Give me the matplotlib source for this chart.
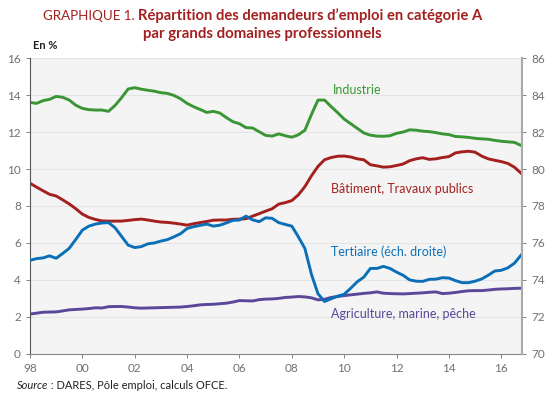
import numpy as np
import matplotlib
matplotlib.use('Agg')
import matplotlib.pyplot as plt

plt.rcParams['font.family'] = ['Lato', 'DejaVu Sans']

# quarterly data, 1998 Q1 -> 2016 Q4
industrie = [13.60, 13.55, 13.70, 13.77, 13.93, 13.88, 13.73, 13.45,
             13.28, 13.21, 13.19, 13.19, 13.12, 13.44, 13.86, 14.33,
             14.40, 14.32, 14.26, 14.21, 14.13, 14.09, 13.98, 13.80,
             13.55, 13.37, 13.22, 13.06, 13.12, 13.03, 12.78, 12.56,
             12.45, 12.24, 12.22, 12.02, 11.82, 11.78, 11.90, 11.80,
             11.72, 11.85, 12.10, 12.95, 13.73, 13.73, 13.38, 13.05,
             12.70, 12.45, 12.20, 11.95, 11.83, 11.78, 11.77, 11.80,
             11.93, 12.00, 12.12, 12.10, 12.05, 12.02, 11.97, 11.90,
             11.86, 11.76, 11.74, 11.71, 11.66, 11.63, 11.61, 11.55,
             11.50, 11.47, 11.44, 11.28]
batiment = [9.23, 9.02, 8.82, 8.63, 8.54, 8.33, 8.11, 7.85,
            7.56, 7.38, 7.27, 7.19, 7.18, 7.18, 7.18, 7.22,
            7.26, 7.29, 7.24, 7.18, 7.13, 7.11, 7.07, 7.02,
            6.96, 7.04, 7.10, 7.16, 7.23, 7.24, 7.24, 7.28,
            7.29, 7.31, 7.45, 7.58, 7.72, 7.85, 8.10, 8.18,
            8.29, 8.60, 9.05, 9.63, 10.14, 10.50, 10.62, 10.69,
            10.70, 10.65, 10.55, 10.50, 10.23, 10.17, 10.10, 10.12,
            10.19, 10.27, 10.45, 10.55, 10.61, 10.52, 10.55, 10.62,
            10.67, 10.87, 10.93, 10.96, 10.91, 10.70, 10.55, 10.47,
            10.40, 10.30, 10.10, 9.78]
tertiaire = [75.06, 75.15, 75.19, 75.30, 75.17, 75.43, 75.71, 76.19,
             76.69, 76.91, 77.02, 77.08, 77.10, 76.82, 76.35, 75.88,
             75.75, 75.80, 75.95, 76.00, 76.10, 76.18, 76.33, 76.50,
             76.78, 76.88, 76.95, 77.02, 76.91, 76.96, 77.08, 77.22,
             77.24, 77.45, 77.25, 77.15, 77.36, 77.33, 77.10, 77.00,
             76.91, 76.33, 75.70, 74.30, 73.25, 72.83, 72.98, 73.12,
             73.22, 73.55, 73.90, 74.15, 74.62, 74.62, 74.73, 74.62,
             74.42, 74.25, 74.00, 73.93, 73.92, 74.03, 74.04, 74.12,
             74.10, 73.96, 73.85, 73.85, 73.93, 74.05, 74.25, 74.48,
             74.52, 74.65, 74.90, 75.33]
agriculture = [2.15, 2.20, 2.25, 2.26, 2.27, 2.32, 2.38, 2.40,
               2.42, 2.45, 2.49, 2.48, 2.55, 2.56, 2.56, 2.53,
               2.49, 2.47, 2.48, 2.49, 2.50, 2.51, 2.52, 2.53,
               2.56, 2.60, 2.65, 2.67, 2.68, 2.71, 2.74, 2.80,
               2.88, 2.87, 2.86, 2.93, 2.96, 2.97, 3.00, 3.05,
               3.07, 3.10, 3.08, 3.03, 2.92, 2.95, 3.05, 3.10,
               3.15, 3.19, 3.23, 3.27, 3.30, 3.35, 3.28, 3.26,
               3.25, 3.24, 3.26, 3.28, 3.30, 3.33, 3.35, 3.26,
               3.28, 3.32, 3.37, 3.41, 3.42, 3.42, 3.45, 3.49,
               3.51, 3.52, 3.54, 3.55]
years = 1998 + np.arange(len(industrie)) / 4
xtick_years = list(range(1998, 2017, 2))
xtick_labels = ['98', '00', '02', '04', '06', '08', '10', '12', '14', '16']

c_green = '#3a9634'
c_red = '#a3201f'
c_blue = '#0a6fb7'
c_purple = '#5a4799'
c_title = '#a3201f'
c_tick = '#707070'

fig = plt.figure(figsize=(5.5, 3.98), dpi=100)
ax = fig.add_axes([0.0545, 0.111, 0.895, 0.743])
ax2 = ax.twinx()

ax.set_facecolor('#f4f4f4')
ax.set_xlim(1998, 2016.8)
ax.set_ylim(0, 16)
ax2.set_ylim(70, 86)
ax.set_yticks(range(0, 17, 2))
ax2.set_yticks(range(70, 87, 2))
ax.set_xticks(xtick_years)
ax.set_xticklabels(xtick_labels)
ax.grid(axis='y', color='#e4e4e4', linewidth=0.8)
ax.set_axisbelow(True)

for a in (ax, ax2):
    a.spines['top'].set_visible(False)
    a.tick_params(labelsize=8.5, colors=c_tick, length=3, width=0.6)
ax.spines['left'].set_color('#555555')
ax.spines['bottom'].set_color('#888888')
ax.spines['right'].set_visible(False)
ax2.spines['left'].set_visible(False)
ax2.spines['bottom'].set_visible(False)
ax2.spines['right'].set_color('#aaaaaa')
ax2.spines['right'].set_linewidth(1.5)

lw = 2.1
ax.plot(years, industrie, color=c_green, lw=lw)
ax.plot(years, batiment, color=c_red, lw=lw)
ax.plot(years, agriculture, color=c_purple, lw=lw)
ax2.plot(years, tertiaire, color=c_blue, lw=lw)

lab = dict(fontsize=9, va='center')
ax.text(2010.5, 14.3, 'Industrie', color=c_green, ha='center', **lab)
ax.text(2009.5, 8.9, 'Bâtiment, Travaux publics', color=c_red, **lab)
ax.text(2009.5, 5.55, 'Tertiaire (éch. droite)', color=c_blue, **lab)
ax.text(2009.5, 2.15, 'Agriculture, marine, pêche', color=c_purple, **lab)

fig.text(0.06, 0.878, 'En %', fontsize=8, fontweight='bold', color='#222222')

fig.canvas.draw()
r = fig.canvas.get_renderer()
s1 = fig.text(0.031, 0.022, 'Source', fontsize=8, style='italic', color='#222222')
ws = s1.get_window_extent(r).width / fig.bbox.width
fig.text(0.031 + ws, 0.022, ' : DARES, Pôle emploi, calculs OFCE.', fontsize=8, color='#222222')

# title, first line mixes normal and bold
t1 = fig.text(0, 0.96, 'GRAPHIQUE 1. ', fontsize=9.6, color=c_title, va='center')
t2 = fig.text(0, 0.96, 'Répartition des demandeurs d\u2019emploi en catégorie A',
              fontsize=10.6, color=c_title, fontweight='bold', va='center')
w1 = t1.get_window_extent(r).width / fig.bbox.width
w2 = t2.get_window_extent(r).width / fig.bbox.width
x0 = 0.477 - (w1 + w2) / 2
t1.set_x(x0)
t2.set_x(x0 + w1)
fig.text(0.477, 0.915, 'par grands domaines professionnels', fontsize=10.8,
         color=c_title, fontweight='bold', ha='center', va='center')

fig.savefig('out.png', dpi=100)
